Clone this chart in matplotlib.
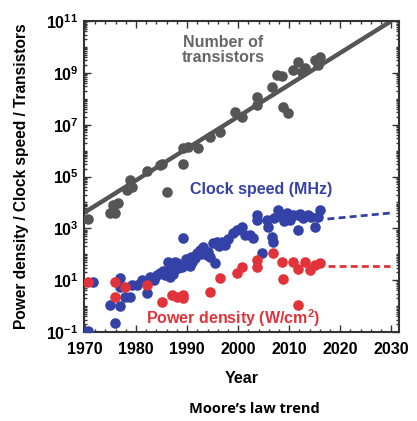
import matplotlib
matplotlib.use("Agg")
import matplotlib.pyplot as plt
import numpy as np
from matplotlib.ticker import LogLocator, MultipleLocator, NullFormatter

plt.rcParams['font.family'] = ['Liberation Sans', 'DejaVu Sans']
plt.rcParams['mathtext.fontset'] = 'custom'
plt.rcParams['mathtext.rm'] = 'Liberation Sans:bold'
plt.rcParams['mathtext.bf'] = 'Liberation Sans:bold'

# Number of transistors (year, log10 value)
tr_year = [1970.6, 1974.9, 1975.9, 1975.5, 1976.5, 1978.2, 1978.8, 1979.2, 1982.2, 1986.1,
           1984.7, 1985.1, 1989.2, 1989.2, 1990.2, 1992.2, 1994.5, 1996.5, 1999.4, 2000.8,
           2003.7, 2003.7, 2006.7, 2007.6, 2008.6, 2008.8, 2009.8, 2010.8, 2011.8, 2012.5,
           2013.1, 2015.1, 2016.0, 2015.7]
tr_log = [3.36, 3.59, 3.59, 3.9, 3.98, 4.48, 4.86, 4.6, 5.2, 4.4,
          5.44, 5.5, 5.48, 6.1, 6.14, 6.1, 6.53, 6.72, 7.49, 7.3,
          8.07, 7.76, 8.45, 8.9, 8.88, 7.68, 7.45, 9.1, 9.42, 9.03,
          9.18, 9.5, 9.6, 9.3]

# Clock speed (MHz)
ck_year = [1970.6, 1971.6, 1974.9, 1975.9, 1976.9, 1976.9, 1976.9, 1977.8, 1978.8, 1979.2,
           1980.2, 1981.2, 1982.2, 1982.7, 1984.1, 1984.7, 1985.7, 1986.7, 1986.3, 1987.0,
           1987.6, 1988.2, 1989.0, 1989.2, 1990.0, 1991.0, 1992.0, 1992.5, 1993.1, 1993.9,
           1994.5, 1995.1, 1995.9, 1996.9, 1995.5, 1999.0, 1999.8, 2000.8, 2001.4, 2002.4,
           2003.0, 2003.7, 2003.7, 2004.7, 2005.7, 2005.9, 2006.7, 2006.9, 2007.8, 2008.6,
           2009.6, 2010.2, 2010.8, 2011.8, 2011.8, 2012.7, 2013.7, 2015.1, 2016.0, 2015.7,
           1983.5, 1985.2, 1986.0, 1987.3, 1988.5, 1989.8, 1990.8, 1991.5, 1994.0, 1996.2,
           1997.5, 1998.0, 2007.0, 2009.0, 2012.2, 2014.3, 1986.8, 1988.0, 1990.5, 1992.8]
ck_log = [-0.96, 0.93, 0.03, -0.65, 1.08, 0.74, 0.0, 0.35, 0.35, 0.81,
          0.81, 1.0, 0.5, 1.12, 1.2, 1.28, 1.2, 1.12, 1.7, 1.5,
          1.7, 1.47, 1.5, 2.63, 1.66, 1.7, 2.05, 2.16, 2.28, 1.97,
          1.89, 2.43, 2.47, 2.47, 1.66, 2.82, 2.94, 3.05, 2.74, 2.74,
          2.63, 3.51, 3.32, 2.05, 3.32, 3.05, 2.67, 2.47, 3.7, 3.44,
          3.59, 3.32, 3.51, 3.51, 2.94, 3.4, 3.51, 3.05, 3.7, 3.44,
          1.0, 1.35, 1.3, 1.25, 1.6, 1.8, 1.9, 1.85, 2.1, 2.3,
          2.35, 2.6, 3.4, 3.3, 3.55, 3.45, 1.55, 1.65, 1.55, 2.0]

# Power density (W/cm^2)
pw_year = [1970.6, 1975.9, 1975.9, 1977.8, 1982.2, 1985.1, 1987.0, 1988.0, 1989.2, 1989.2,
           1994.5, 1996.5, 1999.8, 2000.8, 2003.7, 2003.7, 2006.9, 2008.6, 2008.8, 2010.8,
           2011.8, 2013.1, 2014.1, 2015.1, 2016.0, 2011.8]
pw_log = [0.93, 0.93, 0.35, 0.74, 0.81, 0.16, 0.43, 0.35, 0.43, 0.31,
          0.54, 1.1, 1.28, 1.5, 1.78, 1.51, 2.05, 1.7, 1.04, 1.7,
          1.42, 1.7, 1.39, 1.6, 1.66, 0.04]

# Trend lines
tr_line_year = [1969.8, 2030.0]
tr_line_log = [3.6, 11.0]
ck_proj_year = [2017.5, 2029.8]
ck_proj_log = [3.36, 3.59]
pw_proj_year = [2017.5, 2029.8]
pw_proj_log = [1.55, 1.55]

gray = '#555555'
blue = '#3441a6'
red = '#e2333b'

fig = plt.figure(figsize=(4.17, 4.21), dpi=100)
ax = fig.add_axes([0.2014, 0.2114, 0.7554, 0.7387])

ax.plot(tr_line_year, 10 ** np.array(tr_line_log), color=gray, lw=3.2, solid_capstyle='butt', zorder=2)
ax.scatter(tr_year, 10 ** np.array(tr_log), s=58, color=gray, zorder=3, lw=0)
ax.scatter(ck_year, 10 ** np.array(ck_log), s=58, color=blue, zorder=3, lw=0)
ax.scatter(pw_year, 10 ** np.array(pw_log), s=58, color=red, zorder=4, lw=0)
ax.plot(ck_proj_year, 10 ** np.array(ck_proj_log), color=blue, lw=2, ls=(0, (2.5, 1.5)))
ax.plot(pw_proj_year, 10 ** np.array(pw_proj_log), color=red, lw=2, ls=(0, (2.5, 1.5)))

ax.set_yscale('log')
ax.set_xlim(1969.8, 2031.5)
ax.set_ylim(1e-1, 1e11)

ax.set_xticks([1970, 1980, 1990, 2000, 2010, 2020, 2030])
ax.set_xticklabels(['1970', '1980', '1990', '2000', '2010', '2020', '2030'],
                   fontsize=11.5, fontweight='bold')
ax.xaxis.set_minor_locator(MultipleLocator(2))

yt = [10.0 ** e for e in range(-1, 12, 2)]
ax.set_yticks(yt)
ax.set_yticklabels([r'$\mathbf{10^{%d}}$' % e for e in range(-1, 12, 2)], fontsize=11.5)
ax.yaxis.set_minor_locator(LogLocator(base=10, subs=np.arange(1, 10), numticks=50))
ax.yaxis.set_minor_formatter(NullFormatter())

ax.tick_params(which='both', direction='in', top=True, right=True, width=1.0, color='#333333')
ax.tick_params(which='major', length=5)
ax.tick_params(which='minor', length=2.5)
ax.tick_params(axis='x', which='major', pad=7)
ax.tick_params(axis='y', which='major', pad=4)
for sp in ax.spines.values():
    sp.set_linewidth(1.5)
    sp.set_color('#333333')

ax.set_xlabel('Year', fontsize=11.5, fontweight='bold', labelpad=10)
ax.set_ylabel('Power density / Clock speed / Transistors', fontsize=11.2, fontweight='bold', labelpad=12)

ax.text(1997.0, 10 ** 9.9, 'Number of\ntransistors', color='#666666', fontsize=11.5,
        fontweight='bold', ha='center', va='center', linespacing=1.0)
ax.text(2004.4, 10 ** 4.5, 'Clock speed (MHz)', color=blue, fontsize=11.5,
        fontweight='bold', ha='center', va='center')
ax.text(1999.0, 10 ** -0.45, r'Power density (W/cm$^{\mathbf{2}}$)', color=red, fontsize=11.5,
        fontweight='bold', ha='center', va='center')

fig.text(0.609, 0.012, 'Moore\u2019s law trend', fontsize=10.5, fontweight='bold',
         family=['Open Sans', 'DejaVu Sans'], ha='center', va='bottom')

fig.savefig('out.png', dpi=100, facecolor='white')
